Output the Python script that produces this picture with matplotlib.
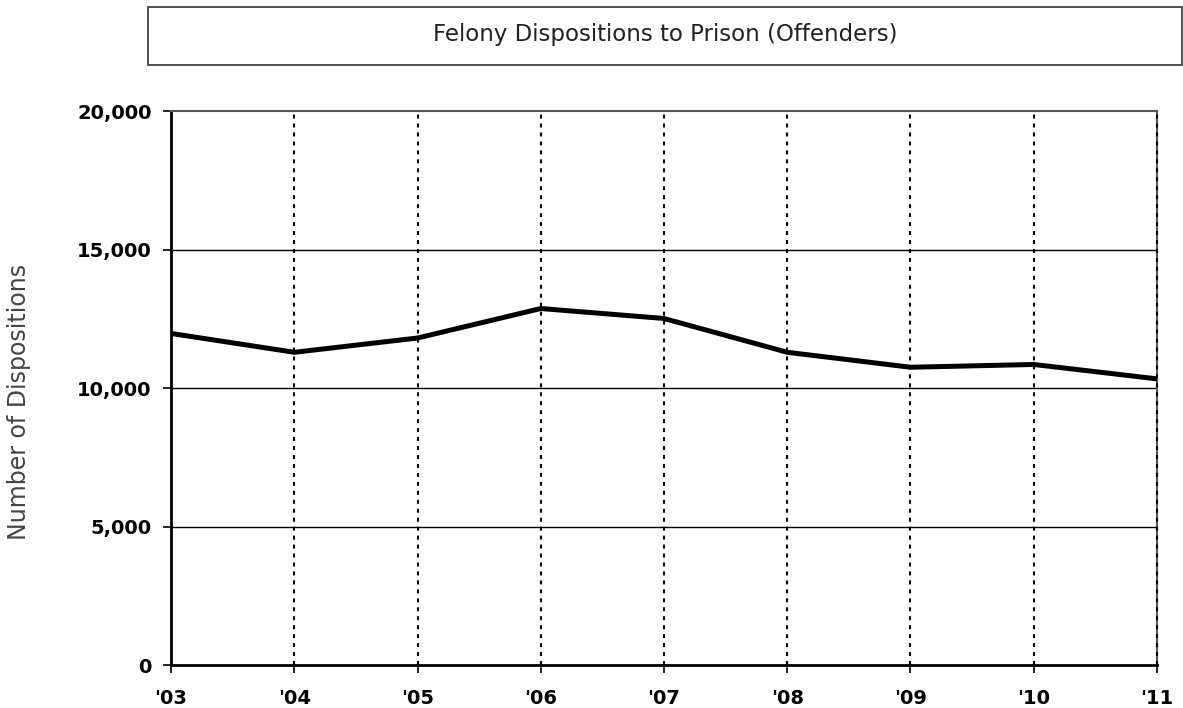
import matplotlib.pyplot as plt
from matplotlib.patches import Rectangle
from matplotlib.ticker import FuncFormatter

# Datos
years = ["'03", "'04", "'05", "'06", "'07", "'08", "'09", "'10", "'11"]
prison = [11970, 11290, 11805, 12870, 12510, 11290, 10750, 10850, 10330]
yticks = [0, 5000, 10000, 15000, 20000]

fig = plt.figure(figsize=(11.83, 7.08), dpi=100)
ax = fig.add_axes([0.1446, 0.0607, 0.8334, 0.7825])

x = list(range(len(years)))
ax.plot(x, prison, color='black', linewidth=3.6, solid_joinstyle='miter', zorder=3)

ax.set_xlim(0, len(years) - 1)
ax.set_ylim(0, 20000)
ax.set_xticks(x)
ax.set_xticklabels(years)
ax.set_yticks(yticks)
ax.yaxis.set_major_formatter(FuncFormatter(lambda v, p: f'{int(v):,}'))

for lab in ax.get_xticklabels() + ax.get_yticklabels():
    lab.set_fontweight('bold')
    lab.set_fontsize(14)

ax.tick_params(axis='both', direction='out', length=6, width=1.2, color='black')
ax.tick_params(axis='x', pad=11)
ax.tick_params(axis='y', pad=8)

# Rejilla: horizontales sólidas, verticales punteadas
for v in yticks[1:-1]:
    ax.axhline(v, color='black', linewidth=1, zorder=1)
for xi in x[1:]:
    ax.axvline(xi, color='black', linewidth=1.5, linestyle=(0, (1.9, 2.4)),
               zorder=4, clip_on=False)

ax.spines['top'].set_color('#555555')
ax.spines['top'].set_linewidth(1.5)
ax.spines['right'].set_color('#555555')
ax.spines['right'].set_linewidth(1.5)
ax.spines['left'].set_linewidth(2)
ax.spines['bottom'].set_linewidth(2)

fig.text(19 / 1183, 1 - 402 / 708, 'Number of Dispositions', rotation=90,
         ha='center', va='center', fontsize=17, color='#444444')

# Caja del título
box = Rectangle((0.1251, 0.9082), 0.8741, 0.0819, transform=fig.transFigure,
                facecolor='white', edgecolor='#444444', linewidth=1.3)
fig.patches.append(box)
fig.text(665 / 1183, 1 - 41 / 708, 'Felony Dispositions to Prison (Offenders)',
         ha='center', va='baseline', fontsize=16.5, color='#222222')

fig.savefig('out.png', dpi=100)
